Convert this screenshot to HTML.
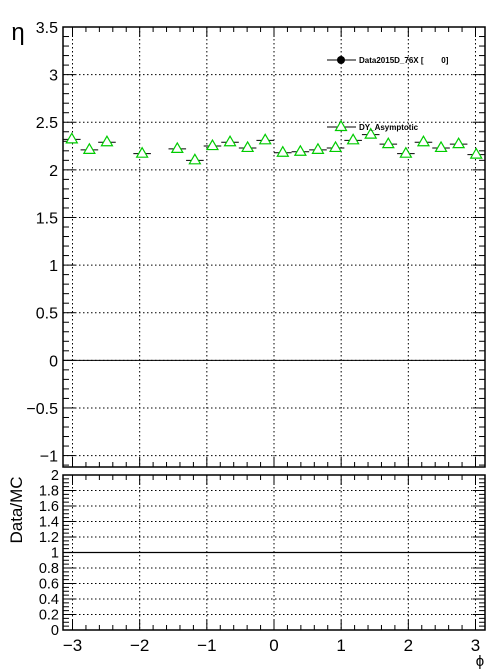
<!DOCTYPE html>
<html><head><meta charset="utf-8"><style>
body{margin:0;background:#fff}
svg{display:block;font-family:"Liberation Sans",Helvetica,sans-serif}
</style></head><body>
<svg id="c" width="496" height="672" viewBox="0 0 496 672"></svg>
<script>
const binIndex=[0,1,2,4,6,7,8,9,10,11,12,13,14,15,16,17,18,19,20,21,22,23];
const etaValues=[2.32,2.21,2.29,2.17,2.22,2.10,2.25,2.29,2.23,2.31,2.18,2.19,2.21,2.23,2.31,2.37,2.27,2.17,2.29,2.23,2.27,2.16];
const xTicks=[-3,-2,-1,0,1,2,3];
const yTopTicks=[-1,-0.5,0,0.5,1,1.5,2,2.5,3,3.5];
const yBotTicks=[0,0.2,0.4,0.6,0.8,1,1.2,1.4,1.6,1.8,2];

const NS="http://www.w3.org/2000/svg";
const svg=document.getElementById('c');
function el(t,a,p){const e=document.createElementNS(NS,t);for(const k in a)e.setAttribute(k,a[k]);(p||svg).appendChild(e);return e;}
const X0=63,X1=485,PI=Math.PI;
const sx=v=>X0+(v+PI)/(2*PI)*(X1-X0);
const T0=27,T1=467,tmin=-1.12,tmax=3.5;
const sy=v=>T1-(v-tmin)/(tmax-tmin)*(T1-T0);
const B0=475,B1=630;
const by=v=>B1-v/2*(B1-B0);

function panel(top,bot,yf,ticks,minorStep,ymin,ymax,name){
  const g=el('g',{});
  
  
  xTicks.forEach(v=>el('line',{x1:sx(v),x2:sx(v),y1:top,y2:bot,stroke:'#000','stroke-width':1,'stroke-dasharray':'1.5,2.5'},g));
  ticks.forEach(v=>{if(v>ymin+1e-6&&v<ymax-1e-6)el('line',{x1:X0,x2:X1,y1:yf(v),y2:yf(v),stroke:'#000','stroke-width':1,'stroke-dasharray':'1.5,2.5'},g);});
  for(let v=-3.2;v<=3.21;v+=0.2){const m=Math.abs(v-Math.round(v))<1e-6;const L=m?10:5;const x=sx(v);
    if(x<X0||x>X1)continue;
    el('line',{x1:x,x2:x,y1:bot,y2:bot-L,stroke:'#000'},g);el('line',{x1:x,x2:x,y1:top,y2:top+L,stroke:'#000'},g);}
  for(let v=ymin;v<=ymax+1e-6;v+=minorStep){const y=yf(v);if(y<top-0.5||y>bot+0.5)continue;
    const m=ticks.some(t=>Math.abs(t-v)<1e-6);const L=m?12:6;
    el('line',{x1:X0,x2:X0+L,y1:y,y2:y,stroke:'#000'},g);el('line',{x1:X1,x2:X1-L,y1:y,y2:y,stroke:'#000'},g);}
  el('rect',{x:X0,y:top,width:X1-X0,height:bot-top,fill:'none',stroke:'#000','stroke-width':1.5},g);
  return g;
}
panel(T0,T1,sy,yTopTicks,0.1,-1.1,3.5,'top-panel');
panel(B0,B1,by,yBotTicks,0.05,0,2,'ratio-panel');

let l=el('line',{x1:X0,x2:X1,y1:sy(0),y2:sy(0),stroke:'#000'});

l=el('line',{x1:X0,x2:X1,y1:by(1),y2:by(1),stroke:'#000','stroke-width':1.3});


yTopTicks.forEach(v=>{const t=el('text',{x:58,y:sy(v)+6,'text-anchor':'end','font-size':16});t.textContent=(v<0?'\u2212'+(-v):String(v));
  });
yBotTicks.forEach(v=>{const t=el('text',{x:59,y:by(v)+5,'text-anchor':'end','font-size':14.5});t.textContent=String(v);
  });
xTicks.forEach(v=>{const t=el('text',{x:sx(v),y:651,'text-anchor':'middle','font-size':17});t.textContent=(v<0?'\u2212'+(-v):String(v));
  });

let t=el('text',{x:480,y:666,'font-size':15,'text-anchor':'middle'});t.textContent='\u03d5';

t=el('text',{x:18,y:40,'font-size':24,'text-anchor':'middle'});t.textContent='\u03b7';

t=el('text',{x:0,y:0,'font-size':17,'text-anchor':'middle',transform:'translate(22,510) rotate(-90)'});t.textContent='Data/MC';


const w=2*PI/24;
binIndex.forEach((b,i)=>{
  const c=-PI+(b+0.5)*w, x=sx(c), y=sy(etaValues[i]);
  el('line',{x1:sx(c-w/2),x2:sx(c+w/2),y1:y,y2:y,stroke:'#000'});
  const p=el('polygon',{points:`${x},${y-6} ${x-5.5},${y+3.5} ${x+5.5},${y+3.5}`,fill:'#fff',stroke:'#00cc00','stroke-width':1.2});
  
});

const lg=el('g',{});

el('line',{x1:327,x2:356,y1:60,y2:60,stroke:'#000'},lg);
el('circle',{cx:341,cy:60,r:4,fill:'#000'},lg);
t=el('text',{x:359,y:63,'font-size':8,'font-weight':'bold'},lg);t.textContent='Data2015D_76X [\u00a0\u00a0\u00a0\u00a0\u00a0\u00a0\u00a0\u00a00]';

el('line',{x1:327,x2:356,y1:127,y2:127,stroke:'#000'},lg);
el('polygon',{points:'341,121 335.5,130.5 346.5,130.5',fill:'#fff',stroke:'#00cc00','stroke-width':1.2},lg);
t=el('text',{x:359,y:130,'font-size':8,'font-weight':'bold'},lg);t.textContent='DY_Asymptotic';

</script>
</body></html>
